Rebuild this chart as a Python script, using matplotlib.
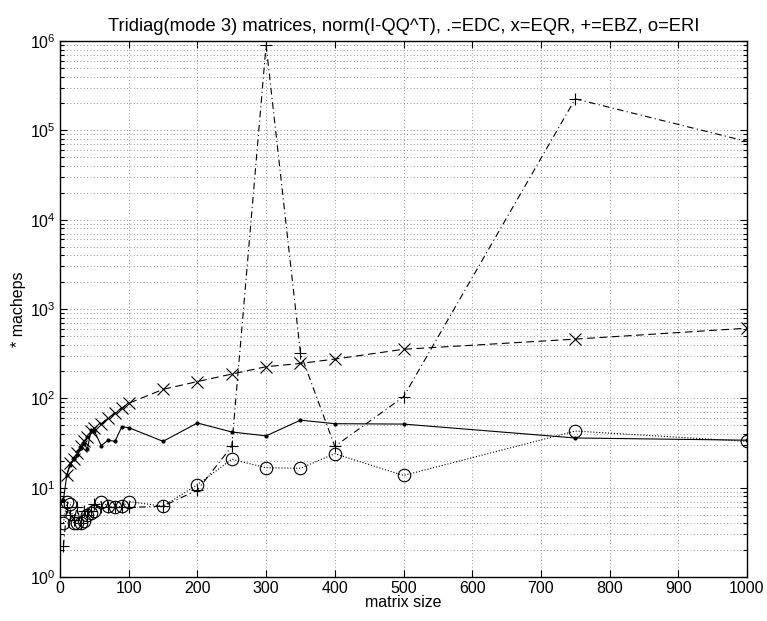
import numpy as np
import matplotlib
matplotlib.use('Agg')
import matplotlib.pyplot as plt
from matplotlib.ticker import LogLocator, NullFormatter, MultipleLocator

plt.rcParams['font.family'] = ['Liberation Sans', 'DejaVu Sans']

# Matrix sizes and errors (* macheps) for each method
sizes = [5, 10, 15, 20, 25, 30, 35, 40, 45, 50, 60, 70, 80, 90, 100,
         150, 200, 250, 300, 350, 400, 500, 750, 1000]
edc = [7.3, 14, 18, 21, 23, 27.5, 31, 27, 44, 43, 29.5, 34, 33, 48, 47,
       33, 53, 42, 38, 57, 52, 51.5, 36, 34]
eqr_sizes = [10, 15, 20, 25, 30, 35, 40, 45, 50, 60, 70, 80, 90, 100,
             150, 200, 250, 300, 350, 400, 500, 750, 1000]
eqr = [14, 18.7, 21, 24.6, 29, 33, 37, 43, 46, 52, 60, 68, 78, 88,
       126, 154, 187, 226, 246, 275, 354, 460, 610]
ebz = [2.2, 6.0, 5.0, 4.3, 6.0, 4.0, 5.5, 5.0, 5.5, 6.5, 6.0, 6.0, 6.0, 6.0, 6.0,
       6.2, 9.4, 29, 9.0e5, 320, 29, 104, 2.25e5, 7.5e4]
eri = [4.0, 7.0, 6.5, 4.0, 4.0, 4.0, 4.2, 5.0, 5.2, 5.5, 7.0, 6.2, 6.0, 6.2, 7.0,
       6.2, 10.8, 20.8, 16.7, 16.5, 24, 13.7, 43, 33]

title = 'Tridiag(mode 3) matrices, norm(I-QQ^T), .=EDC, x=EQR, +=EBZ, o=ERI'

fig = plt.figure(figsize=(7.67, 6.21), dpi=100)
ax = fig.add_axes([60/767, 44/621, 687/767, 536/621])

lw = 0.8
ax.semilogy(sizes, edc, '-', color='k', marker='.', markersize=4, linewidth=lw)
ax.semilogy(eqr_sizes, eqr, '--', color='k', marker='x', markersize=9,
            markeredgewidth=0.8, linewidth=lw, dashes=(7, 4))
ax.semilogy(sizes, ebz, '-.', color='k', marker='+', markersize=9,
            markeredgewidth=0.8, linewidth=lw, dashes=(6, 3, 1, 3))
ax.semilogy(sizes, eri, ':', color='k', marker='o', markersize=9,
            markerfacecolor='none', markeredgewidth=0.8, linewidth=lw)

ax.set_xlim(0, 1000)
ax.set_ylim(1, 1e6)
ax.xaxis.set_major_locator(MultipleLocator(100))
ax.yaxis.set_major_locator(LogLocator(base=10, numticks=10))
ax.yaxis.set_minor_locator(LogLocator(base=10, subs=np.arange(2, 10), numticks=20))
ax.yaxis.set_minor_formatter(NullFormatter())

ax.grid(True, which='major', color='0.45', linestyle=(0, (1, 3)), linewidth=0.6)
ax.grid(True, which='minor', axis='y', color='0.45', linestyle=(0, (1, 3)), linewidth=0.6)

ax.tick_params(which='both', direction='in', top=True, right=True,
               labelsize=11.5, width=0.8)
ax.tick_params(which='major', length=5, pad=3)
ax.tick_params(which='minor', length=3)
for s in ax.spines.values():
    s.set_linewidth(1.0)

ax.set_xlabel('matrix size', fontsize=11.5, labelpad=-1)
ax.set_ylabel('* macheps', fontsize=11.5, labelpad=3)
ax.set_title(title, fontsize=13.2, pad=7)

fig.savefig('out.png', dpi=100)
